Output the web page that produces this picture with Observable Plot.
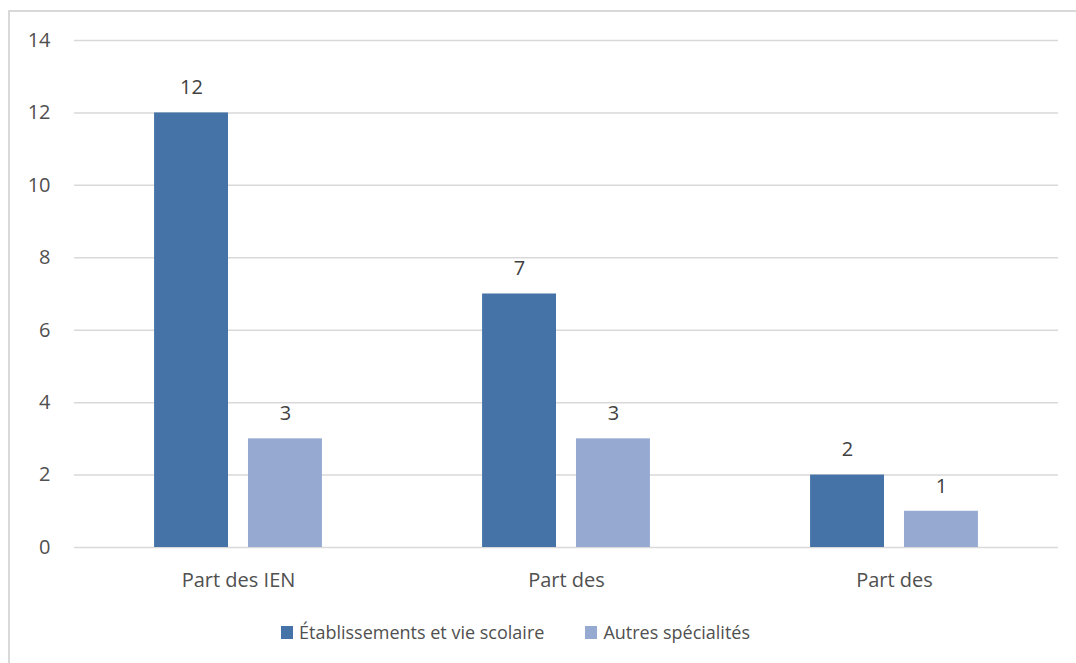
<!DOCTYPE html>
<html><head><meta charset="utf-8">
<script src="https://cdn.jsdelivr.net/npm/d3@7"></script>
<script src="https://cdn.jsdelivr.net/npm/@observablehq/plot@0.6"></script>
<style>
body{margin:0;background:#fff;}
#wrap{position:relative;width:1076px;height:663px;overflow:hidden;font-family:"Open Sans","Noto Sans",sans-serif;}
#frame{position:absolute;left:8px;top:10px;width:1300px;height:900px;border-left:2px solid #d9d9d9;border-top:2px solid #d9d9d9;}
#chart{position:absolute;left:0;top:0;}
#legend{position:absolute;left:281px;top:619px;display:flex;align-items:center;font-size:18px;line-height:26px;color:#505050;white-space:nowrap;}
#legend .sw{display:inline-block;width:12px;height:13px;margin-right:6px;}
#legend .item{display:flex;align-items:center;margin-right:41px;}
</style></head>
<body>
<div id="wrap"><div id="frame"></div><div id="chart"></div><div id="legend"></div></div>
<script>
const categoryKeys = ["g1", "g2", "g3"];
const categoryLabels = ["Part des IEN", "Part des", "Part des"];
const seriesNames = ["Établissements et vie scolaire", "Autres spécialités"];
const seriesColors = ["#4572a7", "#95a9d1"];
const valuesEtab = [12, 7, 2];
const valuesAutres = [3, 3, 1];
const yTicks = [0, 2, 4, 6, 8, 10, 12, 14];

const table = [];
categoryKeys.forEach((k, i) => {
  table.push({cat: k, series: seriesNames[0], value: valuesEtab[i]});
  table.push({cat: k, series: seriesNames[1], value: valuesAutres[i]});
});

const font = '"Open Sans","Noto Sans",sans-serif';
const chart = Plot.plot({
  width: 1076, height: 600,
  marginLeft: 73, marginRight: 18, marginTop: 40, marginBottom: 53,
  style: {fontFamily: font, fontSize: "20px", color: "#505050", background: "transparent"},
  fx: {domain: categoryKeys, padding: 0, axis: "bottom", label: null, tickSize: 0, tickPadding: 25,
       tickFormat: k => categoryLabels[categoryKeys.indexOf(k)]},
  x: {domain: seriesNames, paddingInner: 0.2128, paddingOuter: 0.8527, round: false, axis: null},
  y: {domain: [0, 14], ticks: yTicks, tickSize: 0, tickPadding: 24, label: null},
  color: {domain: seriesNames, range: seriesColors},
  marks: [
    Plot.ruleY(yTicks, {stroke: "#d9d9d9", strokeWidth: 1.5}),
    Plot.barY(table, {fx: "cat", x: "series", y: "value", fill: "series"}),
    Plot.text(table, {fx: "cat", x: "series", y: "value", text: d => String(d.value), dy: -25, fill: "#404040", fontSize: 20})
  ]
});
document.getElementById("chart").appendChild(chart);

const legend = document.getElementById("legend");
seriesNames.forEach((s, i) => {
  const item = document.createElement("div");
  item.className = "item";
  const sw = document.createElement("span");
  sw.className = "sw";
  sw.style.background = seriesColors[i];
  item.appendChild(sw);
  item.appendChild(document.createTextNode(s));
  legend.appendChild(item);
});
</script>
</body></html>
